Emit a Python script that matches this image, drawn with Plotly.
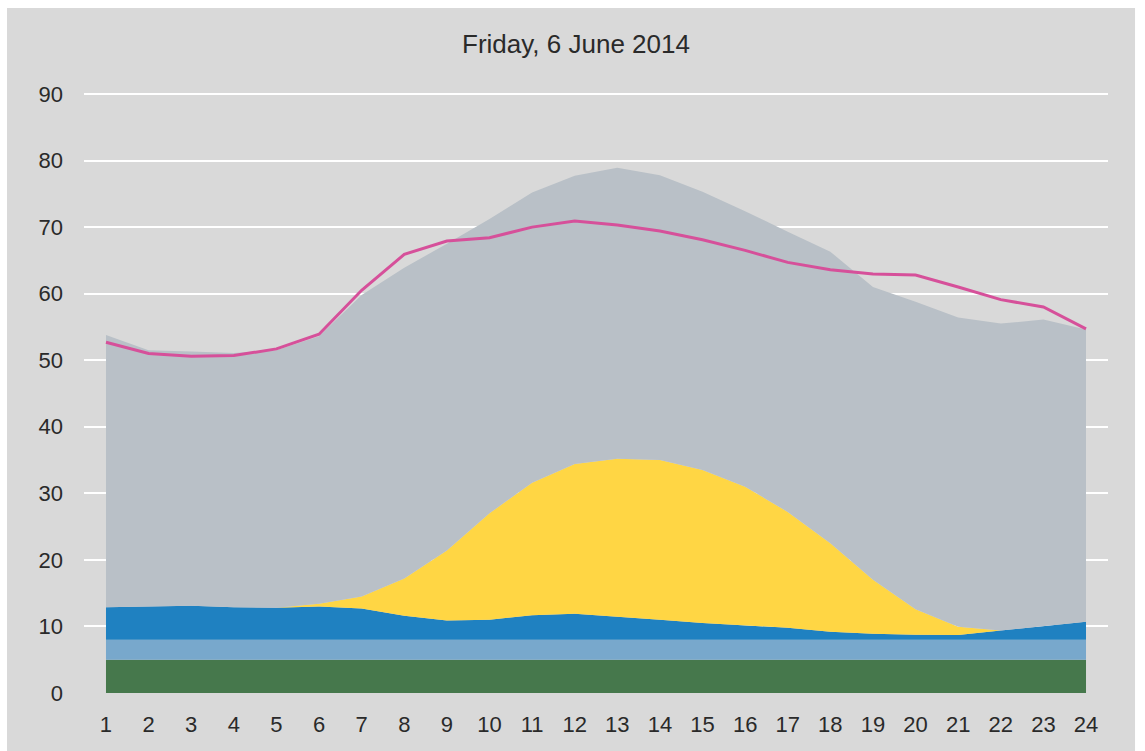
import plotly.graph_objects as go

hours = list(range(1, 25))

# stacked components (GW)
green = [5.0] * 24
light_blue = [3.0] * 24
blue = [4.9, 4.95, 5.1, 4.9, 4.8, 5.0, 4.7, 3.6, 2.9, 3.0, 3.7, 3.9,
        3.5, 3.0, 2.5, 2.2, 1.8, 1.2, 0.9, 0.75, 0.7, 1.4, 2.05, 2.7]
yellow = [0, 0, 0, 0, 0, 0.4, 1.8, 5.6, 10.5, 16.0, 19.9, 22.5,
          23.7, 24.0, 23.0, 20.8, 17.4, 13.3, 8.1, 3.85, 1.25, 0, 0, 0]
gray = [40.9, 38.55, 38.2, 38.2, 38.7, 40.2, 45.3, 46.7, 46.1, 44.2, 43.6, 43.3,
        43.7, 42.8, 41.8, 41.4, 42.1, 43.8, 44.0, 46.2, 46.45, 46.1, 46.05, 43.9]
line = [52.7, 51.0, 50.6, 50.7, 51.7, 53.9, 60.5, 65.9, 67.9, 68.4, 70.0, 70.9,
        70.3, 69.4, 68.1, 66.5, 64.7, 63.6, 62.95, 62.8, 61.0, 59.1, 58.0, 54.7]

y_ticks = list(range(0, 100, 10))
title_text = "Friday, 6 June 2014"

FONT = "Liberation Sans, Arial, sans-serif"

fig = go.Figure()
for vals, col in [(green, "#46784C"), (light_blue, "#78A8CC"), (blue, "#1F81C1"),
                  (yellow, "#FFD644"), (gray, "#B9C0C7")]:
    fig.add_trace(go.Scatter(x=hours, y=vals, stackgroup="s", mode="lines",
                             line=dict(width=0, color=col), fillcolor=col,
                             hoverinfo="skip", showlegend=False))
fig.add_trace(go.Scatter(x=hours, y=line, mode="lines",
                         line=dict(color="#D6509A", width=3), showlegend=False))

fig.update_layout(
    width=1145, height=751,
    margin=dict(l=84, r=37, t=87, b=58),
    paper_bgcolor="white",
    plot_bgcolor="rgba(0,0,0,0)",
    title=dict(text=title_text, x=576 / 1145, xanchor="center",
               y=1 - 44 / 751, yanchor="middle", yref="container",
               font=dict(family=FONT, size=26, color="#2a2a2a")),
    xaxis=dict(range=[0.484, 24.516], tickvals=hours, showgrid=False,
               zeroline=False, showline=False, ticklabelstandoff=16,
               tickfont=dict(family=FONT, size=22, color="#2a2a2a")),
    yaxis=dict(range=[0, 91.05], tickvals=y_ticks, showgrid=True,
               gridcolor="white", gridwidth=2, zeroline=False, showline=False,
               ticklabelstandoff=20,
               tickfont=dict(family=FONT, size=22, color="#2a2a2a")),
    shapes=[dict(type="rect", xref="paper", yref="paper",
                 x0=-0.0752, x1=1.0264, y0=-0.2, y1=1.2,
                 fillcolor="#D9D9D9", line=dict(width=0), layer="below")],
)
# clamp the gray panel's top edge to 8px from the top of the page
fig.layout.shapes[0].y1 = (751 - 58 - 8) / (751 - 87 - 58)

fig.write_html("out.html", config={"displayModeBar": False},
               post_script="document.body.style.margin='0';document.body.style.padding='0';")
